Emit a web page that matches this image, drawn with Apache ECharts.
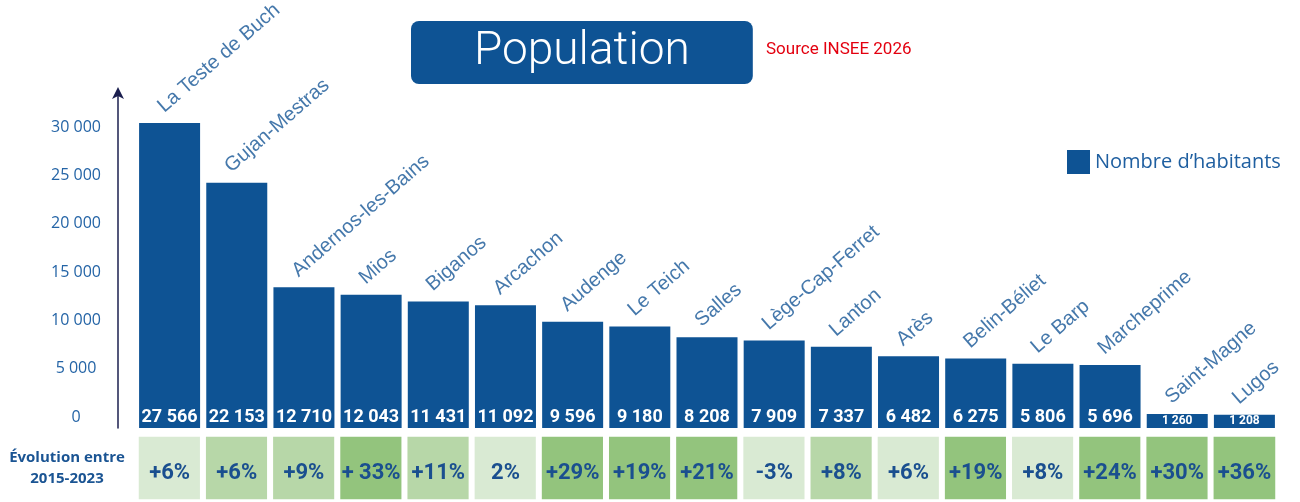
<!DOCTYPE html>
<html>
<head>
<meta charset="utf-8">
<script src="https://cdn.jsdelivr.net/npm/echarts@6/dist/echarts.min.js"></script>
<style>
html, body { margin: 0; padding: 0; background: #fff; }
#chart_pop { width: 1300px; height: 502px; }
</style>
</head>
<body>
<div id="chart_pop"></div>
<script>
// données (source INSEE)
var communes = ['La Teste de Buch', 'Gujan-Mestras', 'Andernos-les-Bains', 'Mios', 'Biganos', 'Arcachon',
    'Audenge', 'Le Teich', 'Salles', 'Lège-Cap-Ferret', 'Lanton', 'Arès', 'Belin-Béliet', 'Le Barp',
    'Marcheprime', 'Saint-Magne', 'Lugos'];
var habitants = [27566, 22153, 12710, 12043, 11431, 11092, 9596, 9180, 8208, 7909, 7337, 6482, 6275, 5806, 5696, 1260, 1208];
var evolution = ['+6%', '+6%', '+9%', '+ 33%', '+11%', '2%', '+29%', '+19%', '+21%', '-3%', '+8%', '+6%',
    '+19%', '+8%', '+24%', '+30%', '+36%'];
// teinte de la case : 0 clair, 1 moyen, 2 foncé
var teinte = [0, 1, 1, 2, 1, 0, 2, 2, 2, 0, 1, 0, 2, 0, 2, 2, 2];
var yMin = 0, yMax = 30000, yStep = 5000;
var ligneEvolution = ['Évolution entre\n2015-2023'];

var bleu = '#0e5394';
var verts = ['#d9ead3', '#b7d7a8', '#93c47d'];

function fmt(v) {
    return String(v).replace(/\B(?=(\d{3})+(?!\d))/g, ' ');
}

var chart = echarts.init(document.getElementById('chart_pop'));

var option = {
    animation: false,
    title: [
        {
            text: 'Population',
            left: 411,
            top: 21,
            padding: [8, 63],
            backgroundColor: bleu,
            borderRadius: 8,
            textStyle: {color: '#fff', fontSize: 46, fontWeight: 300, fontFamily: 'Roboto', lineHeight: 47}
        },
        {
            text: 'Source INSEE 2026',
            left: 766,
            top: 41,
            padding: 0,
            textStyle: {color: '#e3000f', fontSize: 17, fontWeight: 'normal', fontFamily: 'Roboto'}
        }
    ],
    legend: {
        data: ['Nombre d’habitants'],
        left: 1067,
        top: 150,
        padding: 0,
        icon: 'rect',
        itemWidth: 23,
        itemHeight: 24,
        textStyle: {color: '#1f5fa0', fontSize: 20, fontFamily: 'Open Sans'}
    },
    grid: [
        {left: 136, right: 22, top: 96, bottom: 74},
        {left: 118, right: 22, top: 127, bottom: 85},
        {left: 136, right: 22, top: 434, bottom: 0}
    ],
    xAxis: [
        {type: 'category', gridIndex: 0, data: communes, show: false},
        {type: 'value', gridIndex: 1, show: false},
        {type: 'category', gridIndex: 2, data: communes, show: false}
    ],
    yAxis: [
        {
            type: 'value', gridIndex: 0, min: yMin, max: yMax, offset: 18,
            axisLabel: {show: false}, axisTick: {show: false}, splitLine: {show: false},
            axisLine: {
                show: true, symbol: ['none', 'arrow'], symbolSize: [9, 12], symbolOffset: [0, 9],
                lineStyle: {color: '#1b1f4f', width: 1.5}
            }
        },
        {
            type: 'value', gridIndex: 1, min: yMin, max: yMax, interval: yStep,
            axisLine: {show: false}, axisTick: {show: false}, splitLine: {show: false},
            axisLabel: {
                align: 'center', margin: 42, color: '#2464a6', fontSize: 16, fontFamily: 'Open Sans',
                formatter: function (v) { return fmt(v); }
            }
        },
        {
            type: 'category', gridIndex: 2, data: ligneEvolution,
            axisLine: {show: false}, axisTick: {show: false},
            axisLabel: {
                align: 'center', margin: 69, color: '#1a5493', fontSize: 15, fontWeight: 'bold',
                fontFamily: 'Open Sans', lineHeight: 21, padding: [14, 0, 0, 0]
            }
        }
    ],
    series: [
        {
            name: 'Nombre d’habitants',
            type: 'bar',
            xAxisIndex: 0,
            yAxisIndex: 0,
            barWidth: 61,
            itemStyle: {color: bleu},
            label: {
                show: true, position: 'insideBottom', distance: 2,
                color: '#fff', fontSize: 18, fontWeight: 'bold', fontFamily: 'Roboto',
                formatter: function (p) { return fmt(p.value); }
            },
            data: habitants.map(function (v) {
                return v < 2000 ? {value: v, label: {fontSize: 12, distance: 1}} : v;
            })
        },
        {
            // noms des communes au-dessus des barres
            type: 'scatter',
            xAxisIndex: 0,
            yAxisIndex: 0,
            symbolSize: 1,
            itemStyle: {color: 'rgba(0,0,0,0)'},
            silent: true,
            label: {
                show: true, formatter: '{b}', position: [-2, -6], rotate: 41,
                align: 'left', verticalAlign: 'bottom',
                color: '#175696', fontSize: 20, fontFamily: 'Liberation Sans'
            },
            data: habitants
        },
        {
            type: 'heatmap',
            xAxisIndex: 2,
            yAxisIndex: 2,
            itemStyle: {borderColor: '#fff', borderWidth: 6},
            label: {
                show: true, color: '#1a4f8f', fontSize: 22, fontWeight: 'bold', fontFamily: 'Roboto',
                offset: [0, 5],
                formatter: function (p) { return evolution[p.value[0]]; }
            },
            data: teinte.map(function (t, i) {
                return {value: [i, 0, t], itemStyle: {color: verts[t]}};
            })
        }
    ]
};

chart.setOption(option);
</script>
</body>
</html>
